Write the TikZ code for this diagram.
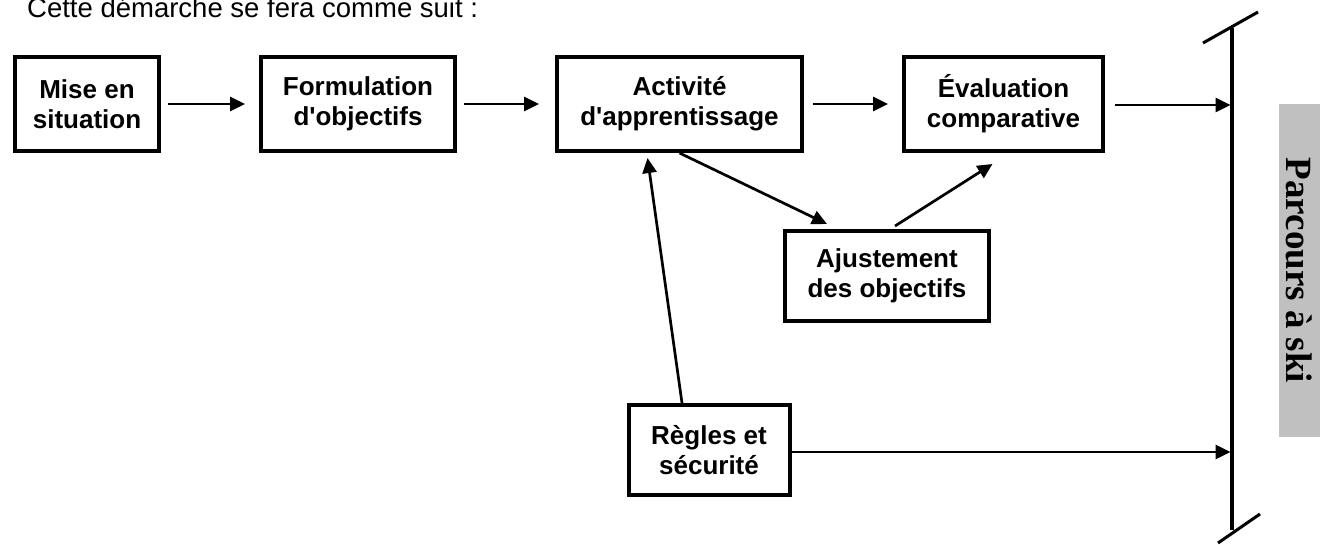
\documentclass[tikz,border=0pt]{standalone}
\usepackage{fontspec}
\setmainfont{Liberation Sans}[Ligatures=TeXOff]
\newfontfamily\sidefont{Liberation Serif}
\usetikzlibrary{arrows.meta,chains,positioning}
\definecolor{sidegray}{RGB}{192,192,192}

\begin{document}
\begin{tikzpicture}[x=1pt,y=-1pt,
        start chain=1 going right,node distance=98pt,
        box/.style={draw,line width=4pt,align=center,inner sep=0pt,
            minimum height=94pt,font=\bfseries\fontsize{26}{30}\selectfont},
        arr/.style={line width=2.7pt,-{Triangle[length=15pt,width=14pt]}}
    ]
    \useasboundingbox (0,0) rectangle (1320,544);
    \node [anchor=base west,inner sep=0pt,font=\fontsize{27.5}{30}\selectfont] (intro) at (27,17) {Cette démarche se fera comme suit :};

    % top row
    \node [box,on chain=1,minimum width=144pt] (mise) at (87,104) {Mise en\\situation};
    \node [box,on chain=1,minimum width=194pt] (form) {Formulation\\d'objectifs};
    \node [box,on chain=1,minimum width=245pt] (act) {Activité\\d'apprentissage};
    \node [box,on chain=1,minimum width=199pt] (eval) {Évaluation\\comparative};

    \node [box,minimum width=204pt,minimum height=90pt] (ajust) at (887,276) {Ajustement\\des objectifs};
    \node [box,minimum width=161pt,minimum height=90pt] (regles) at (709,450) {Règles et\\sécurité};

    % the finish bar
    \coordinate (bartop) at (1232,28);
    \coordinate (barbot) at (1232,530);
    \draw [line width=3.5pt] (bartop) -- (barbot);
    \draw [line width=3pt] (1203,43) -- (1258,12);
    \draw [line width=3pt] (1218,543) -- (1260,514);

    \node [fill=sidegray,rotate=-90,minimum width=333pt,minimum height=41pt,inner sep=0pt,
        font=\sidefont\bfseries\fontsize{37}{40}\selectfont] (side) at (1299.5,270.5) {Parcours à ski};

    \draw [arr,shorten <=7pt,shorten >=14pt] (mise) -- (form);
    \draw [arr,shorten <=7pt,shorten >=16pt] (form) -- (act);
    \draw [arr,shorten <=9pt,shorten >=14pt] (act) -- (eval);
    \draw [arr,shorten <=10pt,shorten >=1.5pt] ([yshift=-1pt]eval.east) -- ([yshift=-1pt]eval.east -| bartop);
    \draw [arr,shorten >=1.5pt] ([yshift=-2pt]regles.east) -- ([yshift=-2pt]regles.east -| bartop);
    \draw [arr] (act.south) -- ([xshift=44pt,yshift=5pt]ajust.north west);
    \draw [arr] ([xshift=8pt,yshift=3pt]ajust.north) -- ([xshift=-11pt,yshift=-11pt]eval.south);
    \draw [arr] ([xshift=-27pt]regles.north) -- ([xshift=-32pt,yshift=-5pt]act.south);
\end{tikzpicture}
\end{document}
